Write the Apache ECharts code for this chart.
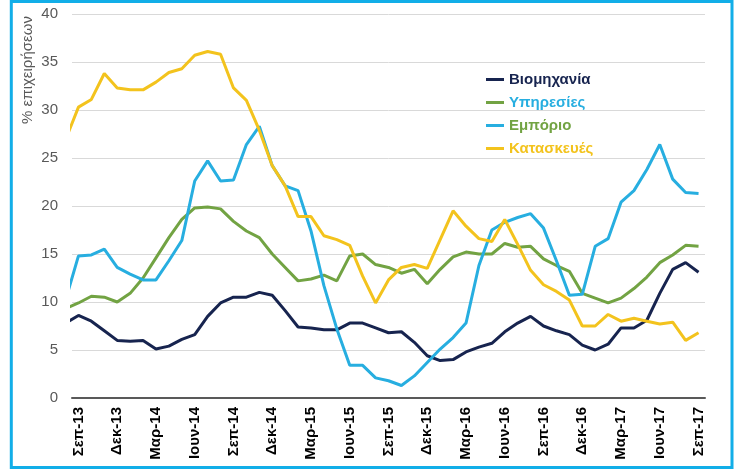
<!DOCTYPE html>
<html>
<head>
<meta charset="utf-8">
<script src="https://cdn.jsdelivr.net/npm/echarts@6/dist/echarts.min.js"></script>
<style>
html, body { margin: 0; padding: 0; background: #fff; }
#chart { width: 735px; height: 472px; }
</style>
</head>
<body>
<div id="chart"></div>
<script>
// μήνες (ο πρώτος, Αυγ-13, κόβεται στην αριστερή άκρη)
var months = [
    'Αυγ-13','Σεπ-13','Οκτ-13','Νοε-13','Δεκ-13',
    'Ιαν-14','Φεβ-14','Μαρ-14','Απρ-14','Μαϊ-14','Ιουν-14','Ιουλ-14','Αυγ-14','Σεπ-14','Οκτ-14','Νοε-14','Δεκ-14',
    'Ιαν-15','Φεβ-15','Μαρ-15','Απρ-15','Μαϊ-15','Ιουν-15','Ιουλ-15','Αυγ-15','Σεπ-15','Οκτ-15','Νοε-15','Δεκ-15',
    'Ιαν-16','Φεβ-16','Μαρ-16','Απρ-16','Μαϊ-16','Ιουν-16','Ιουλ-16','Αυγ-16','Σεπ-16','Οκτ-16','Νοε-16','Δεκ-16',
    'Ιαν-17','Φεβ-17','Μαρ-17','Απρ-17','Μαϊ-17','Ιουν-17','Ιουλ-17','Αυγ-17','Σεπ-17'
];
var tickLabels = ['Σεπ-13','Δεκ-13','Μαρ-14','Ιουν-14','Σεπ-14','Δεκ-14','Μαρ-15','Ιουν-15','Σεπ-15',
    'Δεκ-15','Μαρ-16','Ιουν-16','Σεπ-16','Δεκ-16','Μαρ-17','Ιουν-17','Σεπ-17'];
var yTicks = [0, 5, 10, 15, 20, 25, 30, 35, 40];

var names = ['Βιομηχανία', 'Υπηρεσίες', 'Εμπόριο', 'Κατασκευές'];

var industry = [7.8, 8.6, 8.0, 7.0, 6.0, 5.9, 6.0, 5.1, 5.4, 6.1, 6.6, 8.5, 9.9,
    10.5, 10.5, 11.0, 10.7, 9.1, 7.4, 7.3, 7.1, 7.1, 7.8, 7.8, 7.3, 6.8,
    6.9, 5.8, 4.4, 3.9, 4.0, 4.8, 5.3, 5.7, 6.9, 7.8, 8.5, 7.5,
    7.0, 6.6, 5.5, 5.0, 5.6, 7.3, 7.3, 8.1, 10.9, 13.4, 14.1, 13.1];
var services = [9.3, 9.9, 10.6, 10.5, 10.0, 10.9, 12.5, 14.6, 16.7, 18.6, 19.8, 19.9, 19.7,
    18.4, 17.4, 16.7, 15.0, 13.6, 12.2, 12.4, 12.8, 12.2, 14.8, 15.0, 13.9, 13.6,
    13.0, 13.4, 11.9, 13.4, 14.7, 15.2, 15.0, 15.0, 16.1, 15.7, 15.8, 14.5,
    13.8, 13.2, 10.9, 10.4, 9.9, 10.4, 11.4, 12.6, 14.1, 14.9, 15.9, 15.8];
var trade = [10.2, 14.8, 14.9, 15.5, 13.6, 12.9, 12.3, 12.3, 14.3, 16.4, 22.6, 24.7, 22.6,
    22.7, 26.4, 28.3, 24.2, 22.1, 21.6, 17.4, 11.7, 7.2, 3.4, 3.4, 2.1, 1.8,
    1.3, 2.3, 3.7, 5.1, 6.3, 7.8, 13.8, 17.5, 18.3, 18.8, 19.2, 17.7,
    14.3, 10.7, 10.8, 15.8, 16.6, 20.4, 21.6, 23.8, 26.4, 22.8, 21.4, 21.3];
var construction = [26.9, 30.3, 31.1, 33.8, 32.3, 32.1, 32.1, 32.9, 33.9, 34.3, 35.7, 36.1, 35.8,
    32.3, 31.0, 27.9, 24.2, 22.1, 18.9, 18.9, 16.9, 16.5, 15.9, 12.7, 9.9, 12.3,
    13.6, 13.9, 13.5, 16.5, 19.5, 17.9, 16.6, 16.3, 18.6, 16.0, 13.3, 11.8,
    11.1, 10.2, 7.5, 7.5, 8.7, 8.0, 8.3, 8.0, 7.7, 7.9, 6.0, 6.8];

var lineColors = ['#17244f', '#72a343', '#27aee0', '#f3c31d'];
var legendColors = ['#17244f', '#27aee0', '#72a343', '#f3c31d'];

var dom = document.getElementById('chart');
var myChart = echarts.init(dom);

function pairs(arr) {
    return arr.map(function (v, k) { return [k, v]; });
}

var allData = [industry, services, trade, construction];
var series = [];
for (var i = 0; i < names.length; i++) {
    series.push({
        name: names[i],
        type: 'line',
        data: pairs(allData[i]),
        showSymbol: false,
        symbol: 'none',
        clip: true,
        color: lineColors[i],
        lineStyle: { width: 3, color: lineColors[i] },
        emphasis: { disabled: true }
    });
}

var option = {
    animation: false,
    textStyle: { fontFamily: 'Liberation Sans, Arial, sans-serif' },
    grid: { left: 72, right: 30, top: 14, bottom: 74 },
    legend: {
        orient: 'vertical',
        left: 481,
        top: 67,
        icon: 'rect',
        itemWidth: 18,
        itemHeight: 3,
        itemGap: 8,
        textStyle: { fontSize: 15, fontWeight: 'bold', lineHeight: 15 },
        data: names.map(function (n, k) {
            return { name: n, textStyle: { color: legendColors[k] } };
        })
    },
    xAxis: {
        type: 'value',
        min: 0.5,
        max: 49.5,
        splitLine: { show: false },
        axisTick: { show: false },
        axisLine: { show: true, onZero: false, lineStyle: { color: '#595959', width: 2 } },
        axisLabel: {
            customValues: tickLabels.map(function (t) { return months.indexOf(t); }),
            rotate: 90,
            margin: 9,
            fontSize: 15,
            fontWeight: 'bold',
            color: '#000',
            formatter: function (v) { return months[Math.round(v)]; }
        }
    },
    yAxis: {
        type: 'value',
        min: yTicks[0],
        max: yTicks[yTicks.length - 1],
        interval: 5,
        axisLine: { show: false },
        axisTick: { show: false },
        axisLabel: { fontSize: 15, color: '#595959', margin: 14 },
        splitLine: { lineStyle: { color: '#d9d9d9', width: 1 } }
    },
    graphic: [
        {
            type: 'text',
            x: 27.5,
            y: 70,
            rotation: Math.PI / 2,
            style: {
                text: '% επιχειρήσεων',
                fontSize: 15,
                fontFamily: 'Liberation Sans, Arial, sans-serif',
                fill: '#595959',
                align: 'center',
                verticalAlign: 'middle'
            }
        },
        {
            type: 'rect',
            shape: { x: 11.3, y: 1.5, width: 720.7, height: 466 },
            style: { fill: null, stroke: '#12aee8', lineWidth: 3 },
            silent: true
        }
    ],
    series: series
};

if (option && typeof option === "object") {
    myChart.setOption(option, true);
}
</script>
</body>
</html>
